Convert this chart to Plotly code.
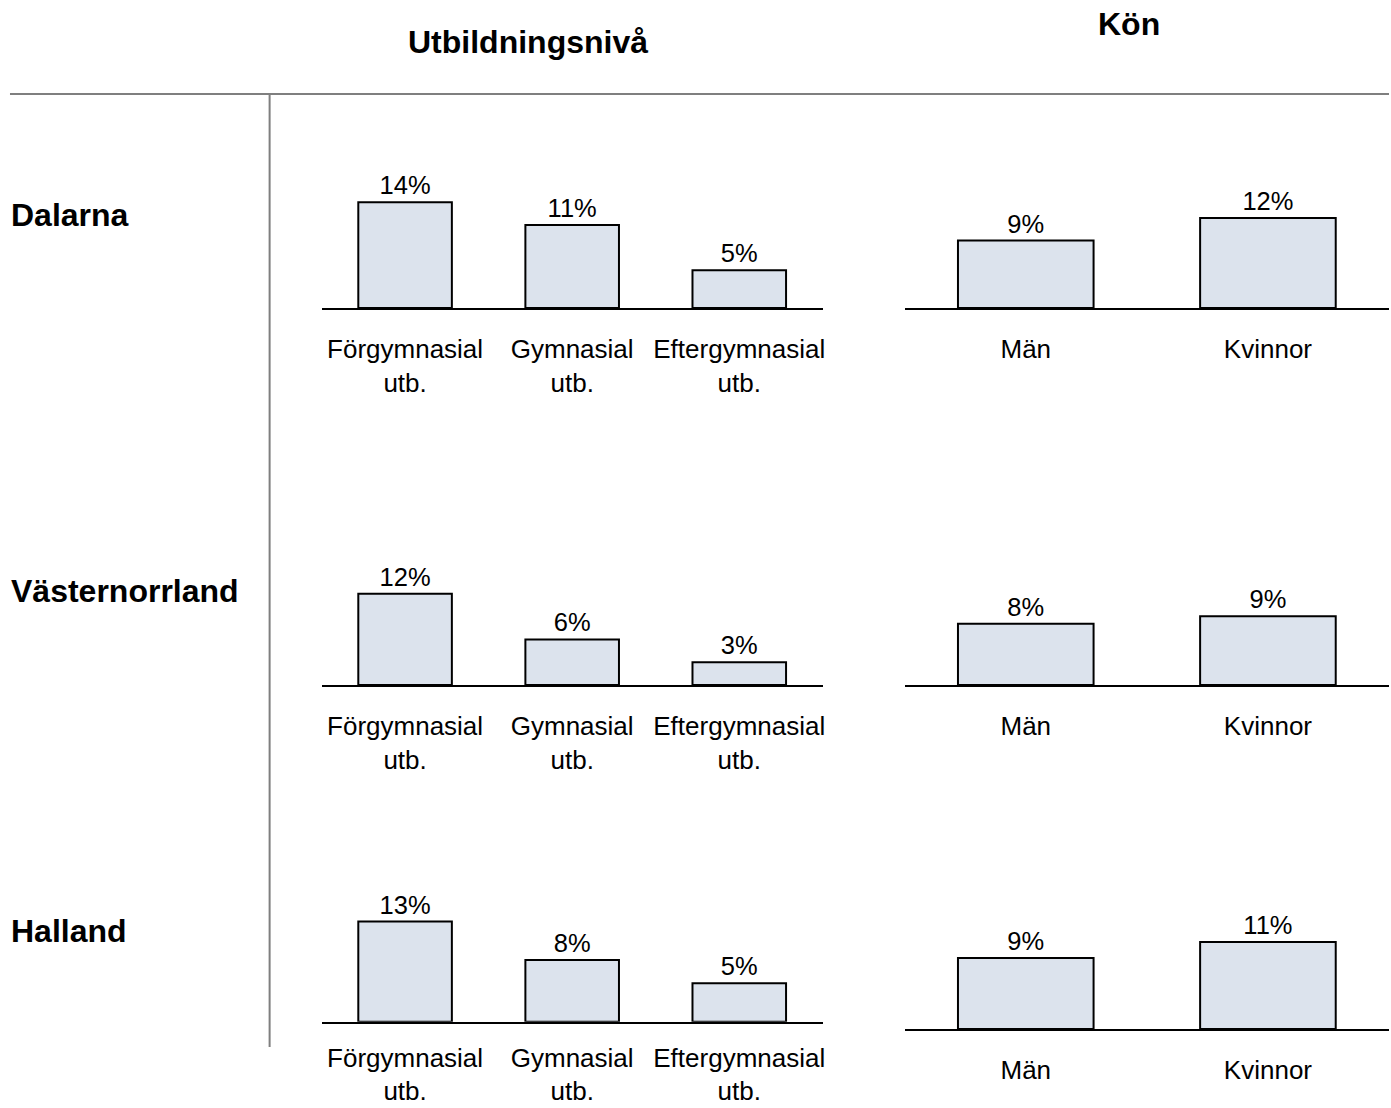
import plotly.graph_objects as go

# Share per region (percent), by education level and by sex
regions = ["Dalarna", "Västernorrland", "Halland"]
edu_labels = ["Förgymnasial<br>utb.", "Gymnasial<br>utb.", "Eftergymnasial<br>utb."]
kon_labels = ["Män", "Kvinnor"]

edu_dalarna = [14, 11, 5]
edu_vasternorrland = [12, 6, 3]
edu_halland = [13, 8, 5]

kon_dalarna = [9, 12]
kon_vasternorrland = [8, 9]
kon_halland = [9, 11]

edu_values = [edu_dalarna, edu_vasternorrland, edu_halland]
kon_values = [kon_dalarna, kon_vasternorrland, kon_halland]

# ---- page geometry (pixels) ----
W, H = 1391, 1108
FONT = "Arial, Liberation Sans, sans-serif"
BAR_FILL = "#DCE3ED"
RULE = "#7F7F7F"


def fx(p):
    return p / W


def fy(p):
    return 1 - p / H


# (baseline y, pixels per percent, tick label standoff) for each panel row
edu_panels = [(308, 7.55, 17), (685, 7.6, 17), (1021.7, 7.7, 12)]
kon_panels = [(308, 7.5, 17), (685, 7.65, 17), (1029, 7.9, 17)]
PANEL_H = 130
EDU_X = (322, 824)
KON_X = (906, 1391)
row_label_y = [215, 591, 931]

fig = go.Figure()
layout_axes = {}


def add_panel(idx, cats, vals, xspan, base, scale, standoff):
    xname = "x" if idx == 1 else f"x{idx}"
    yname = "y" if idx == 1 else f"y{idx}"
    fig.add_trace(go.Bar(
        x=cats, y=vals,
        text=[f"{v}%" for v in vals],
        textposition="outside",
        textfont=dict(family=FONT, size=25.5, color="black"),
        constraintext="none",
        cliponaxis=False,
        marker=dict(color=BAR_FILL, line=dict(color="black", width=2)),
        xaxis=xname, yaxis=yname,
        showlegend=False, hoverinfo="skip",
    ))
    key = "" if idx == 1 else str(idx)
    layout_axes["xaxis" + key] = dict(
        domain=[fx(xspan[0]), fx(xspan[1])],
        anchor=yname,
        showline=True, linecolor="black", linewidth=1.5,
        ticks="", showgrid=False, zeroline=False,
        tickfont=dict(family=FONT, size=26, color="black"),
        ticklabelstandoff=standoff,
        fixedrange=True,
    )
    layout_axes["yaxis" + key] = dict(
        domain=[fy(base), fy(base - PANEL_H)],
        range=[0, PANEL_H / scale],
        anchor=xname,
        visible=False,
        fixedrange=True,
    )


idx = 1
for r in range(len(regions)):
    base, scale, so = edu_panels[r]
    add_panel(idx, edu_labels, edu_values[r], EDU_X, base, scale, so)
    idx += 1
    base, scale, so = kon_panels[r]
    add_panel(idx, kon_labels, kon_values[r], KON_X, base, scale, so)
    idx += 1

annotations = [
    dict(text="<b>Utbildningsnivå</b>", x=fx(529), y=fy(42)),
    dict(text="<b>Kön</b>", x=fx(1131), y=fy(24)),
]
for a in annotations:
    a.update(xref="paper", yref="paper", xanchor="center", yanchor="middle",
             showarrow=False, font=dict(family=FONT, size=32, color="black"))

for name, ypos in zip(regions, row_label_y):
    annotations.append(dict(
        text=f"<b>{name}</b>", x=fx(9), y=fy(ypos),
        xref="paper", yref="paper", xanchor="left", yanchor="middle",
        showarrow=False, font=dict(family=FONT, size=32, color="black"),
    ))

shapes = [
    dict(type="line", xref="paper", yref="paper",
         x0=fx(10), x1=fx(1391), y0=fy(94), y1=fy(94),
         line=dict(color=RULE, width=2)),
    dict(type="line", xref="paper", yref="paper",
         x0=fx(270), x1=fx(270), y0=fy(94), y1=fy(1047),
         line=dict(color=RULE, width=2)),
]

fig.update_layout(
    width=W, height=H,
    margin=dict(l=0, r=0, t=0, b=0),
    paper_bgcolor="white", plot_bgcolor="white",
    bargap=0.44,
    font=dict(family=FONT, color="black"),
    annotations=annotations,
    shapes=shapes,
    **layout_axes,
)

fig.write_html("out.html")
